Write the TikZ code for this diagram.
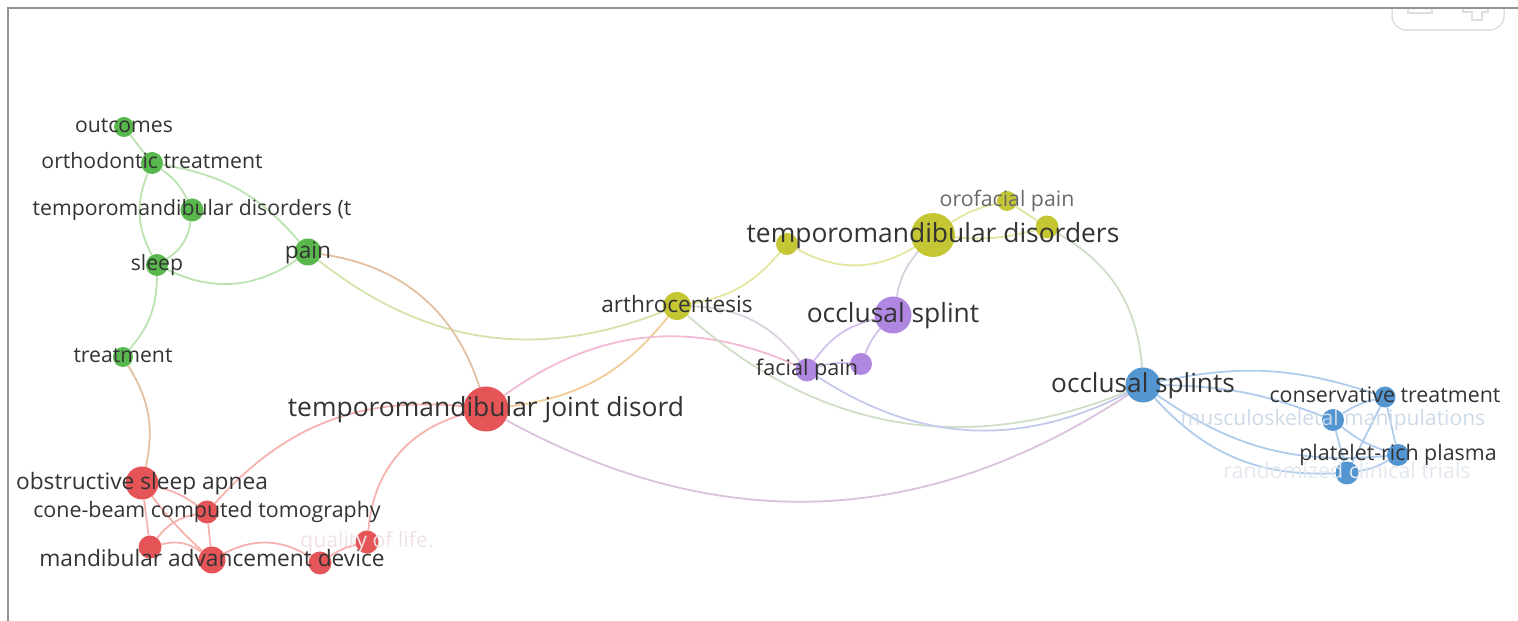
\documentclass[tikz,border=0pt]{standalone}
\usepackage{fontspec}
\setmainfont{Open Sans}
\usetikzlibrary{positioning}
\pgfdeclarelayer{bg}
\pgfdeclarelayer{fg}
\pgfsetlayers{bg,main,fg}

% cluster colours
\definecolor{cg}{RGB}{88,184,78}
\definecolor{cr}{RGB}{229,85,88}
\definecolor{cy}{RGB}{196,198,52}
\definecolor{cp}{RGB}{176,135,224}
\definecolor{cb}{RGB}{84,150,210}
% link colours
\definecolor{eg}{RGB}{188,226,178}
\definecolor{er}{RGB}{246,178,174}
\definecolor{ey}{RGB}{228,230,160}
\definecolor{ep}{RGB}{212,192,238}
\definecolor{eb}{RGB}{176,204,236}
\definecolor{erg}{RGB}{226,192,160}
\definecolor{egy}{RGB}{210,228,172}
\definecolor{ery}{RGB}{242,204,150}
\definecolor{erp}{RGB}{242,186,214}
\definecolor{erb}{RGB}{218,194,220}
\definecolor{eyb}{RGB}{208,222,200}
\definecolor{eyp}{RGB}{218,208,222}
\definecolor{epb}{RGB}{196,202,236}
% text colours
\definecolor{txt}{RGB}{51,51,51}
\definecolor{txo}{RGB}{105,105,105}
\definecolor{fdr}{RGB}{240,226,226}
\definecolor{fdb}{RGB}{206,218,232}
\definecolor{fdc}{RGB}{226,232,238}
\definecolor{btn}{RGB}{222,222,222}

\begin{document}
\begin{tikzpicture}[x=1pt, y=1pt,
    kw/.style={circle, fill=#1, inner sep=0pt},
    lbl/.style={inner sep=0pt, text depth=0pt, font=\fontsize{#1}{#1}\selectfont},
    edge/.style={draw=#1, line width=1.8pt}]
    \useasboundingbox (0,0) rectangle (1518,621);

    % keywords: name/x/y/size/cluster
    \foreach \n/\x/\y/\d/\c in {
        out/124/494/20/cg, ortho/152/458/22/cg, tmdt/192/411/23/cg,
        sleep/157/356/22/cg, pain/308/369/27/cg, treat/123/264/20/cg,
        tmjd/486/212/45/cr, osa/142/138/33/cr, cbct/207/109/23/cr,
        rna/150/74/23/cr, mad/212/61/27/cr, rnb/320/58/23/cr, qol/367/79/23/cr,
        arth/677/315/28/cy, yna/787/377/22/cy, tmd/933/386/44/cy,
        oro/1007/420/20/cy, ynb/1047/394/23/cy,
        osp/893/306/37/cp, fp/807/251/23/cp, pna/861/257/22/cp,
        osps/1143/236/35/cb, ct/1385/224/21/cb, mm/1333/201/22/cb,
        prp/1398/166/22/cb, rct/1347/148/23/cb}
        \node[kw=\c, minimum size=\d pt] (\n) at (\x,\y) {};

    % links
    \begin{pgfonlayer}{bg}
    \foreach \a/\b/\bd/\c in {
        out/ortho/0/eg, ortho/sleep/-25/eg, ortho/tmdt/15/eg, ortho/pain/20/eg,
        tmdt/sleep/25/eg, sleep/pain/-30/eg, sleep/treat/20/eg,
        treat/osa/22/erg, pain/arth/-30/egy, pain/tmjd/32/erg,
        tmjd/arth/-22/ery, tmjd/fp/30/erp, tmjd/osps/-31/erb,
        tmjd/cbct/-27/er, tmjd/qol/-35/er,
        osa/cbct/10/er, osa/mad/-5/er, osa/rna/0/er, cbct/rna/-20/er,
        cbct/mad/0/er, rna/mad/25/er, mad/rnb/30/er, rnb/qol/10/er,
        arth/yna/-20/ey, yna/tmd/-30/ey, tmd/oro/10/ey, tmd/ynb/-10/ey,
        oro/ynb/0/ey, ynb/osps/28/eyb, tmd/osp/-15/eyp,
        arth/osps/-32/eyb, arth/fp/25/eyp,
        fp/osp/20/ep, fp/pna/10/ep, pna/osp/10/ep, fp/osps/-30/epb,
        osps/ct/15/eb, osps/mm/10/eb, osps/prp/-20/eb, osps/rct/-25/eb,
        ct/mm/-10/eb, ct/prp/0/eb, mm/prp/-10/eb, mm/rct/0/eb,
        prp/rct/10/eb, ct/rct/0/eb}
        \draw[edge=\c] (\a) to[bend left=\bd] (\b);
    \end{pgfonlayer}

    % labels: node/text/font size/colour
    \begin{pgfonlayer}{fg}
    \foreach \n/\t/\fs/\tc in {
        out/outcomes/21.2/txt, ortho/orthodontic treatment/21.2/txt,
        tmdt/temporomandibular disorders (t/21.2/txt, sleep/sleep/21.2/txt,
        pain/pain/22.7/txt, treat/treatment/21.2/txt,
        tmjd/temporomandibular joint disord/26.4/txt,
        osa/obstructive sleep apnea/22.7/txt,
        cbct/cone-beam computed tomography/21.4/txt,
        mad/mandibular advancement device/22.7/txt,
        qol/quality of life./21.2/fdr,
        arth/arthrocentesis/22.6/txt, tmd/temporomandibular disorders/26.4/txt,
        oro/orofacial pain/21.3/txo,
        osp/occlusal splint/26.4/txt, fp/facial pain/21.6/txt,
        osps/occlusal splints/26.2/txt, ct/conservative treatment/21.4/txt,
        mm/musculoskeletal manipulations/21.1/fdb,
        prp/platelet-rich plasma/21.4/txt, rct/randomized clinical trials/21.4/fdc} {
        \pgfmathsetmacro\th{\fs*0.535}
        \node[lbl=\fs, text height=\th pt, text=\tc] (\n-l) at (\n) {\t};
    }
    \end{pgfonlayer}

    % zoom buttons, cut by the frame
    \begin{scope}
        \clip (1380,560) rectangle (1518,612);
        \draw[btn, line width=1.5pt, rounded corners=14pt] (1392,591) rectangle (1504,650);
        \draw[btn, line width=1.5pt] (1408,620) -- (1408,608) -- (1432,608) -- (1432,620);
        \draw[btn, line width=1.5pt] (1463,620) -- (1463,609) -- (1472,609) -- (1472,601)
            -- (1482,601) -- (1482,609) -- (1488,609) -- (1488,620);
    \end{scope}

    % frame
    \draw[gray!85, line width=2pt] (8,0) -- (8,613) -- (1518,613);
\end{tikzpicture}
\end{document}
